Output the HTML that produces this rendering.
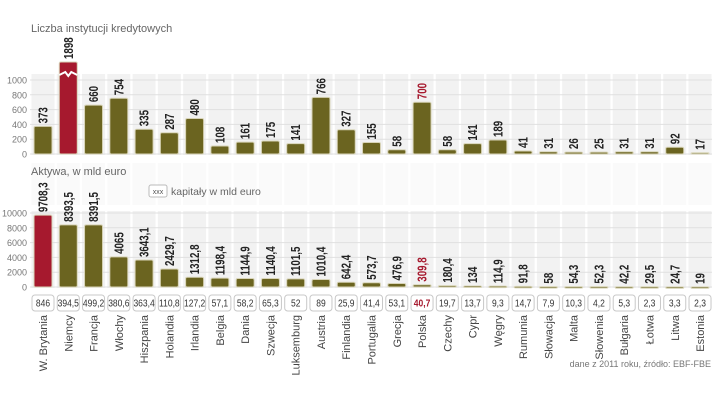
<!DOCTYPE html>
<html><head><meta charset="utf-8"><style>
body{margin:0;background:#fff;}
svg{display:block;font-family:"Liberation Sans",sans-serif;}
</style></head><body>
<svg id="c" width="720" height="405"></svg>
<script>
const countries=["W. Brytania","Niemcy","Francja","Włochy","Hiszpania","Holandia","Irlandia","Belgia","Dania","Szwecja","Luksemburg","Austria","Finlandia","Portugalia","Grecja","Polska","Czechy","Cypr","Węgry","Rumunia","Słowacja","Malta","Słowenia","Bułgaria","Łotwa","Litwa","Estonia"];
const institutions=[373,1898,660,754,335,287,480,108,161,175,141,766,327,155,58,700,58,141,189,41,31,26,25,31,31,92,17];
const assets=[9708.3,8393.5,8391.5,4065,3643.1,2429.7,1312.8,1198.4,1144.9,1140.4,1101.5,1010.4,642.4,573.7,476.9,309.8,180.4,134,114.9,91.8,58,54.3,52.3,42.2,29.5,24.7,19];
const capital=[846,394.5,499.2,380.6,363.4,110.8,127.2,57.1,58.2,65.3,52,89,25.9,41.4,53.1,40.7,19.7,13.7,9.3,14.7,7.9,10.3,4.2,5.3,2.3,3.3,2.3];
const topTicks=[0,200,400,600,800,1000];
const botTicks=[0,2000,4000,6000,8000,10000];
const svg=document.getElementById('c');const NS='http://www.w3.org/2000/svg';
function el(t,a,txt){const e=document.createElementNS(NS,t);for(const k in a)e.setAttribute(k,a[k]);if(txt!==undefined)e.textContent=txt;svg.appendChild(e);return e;}
const fmt=v=>String(v).replace('.',',');
const xc=i=>43+i*25.27;
const yT=v=>154-v*0.074;
const yB=v=>287-v*0.0074;
const OL='#6b6420',RED='#a6192e';
countries.forEach((c,i)=>{
 const s=el('rect',{x:xc(i)-11.5,y:74,width:23,height:81,fill:'#f2f2f2'});
 
 const s3=el('rect',{x:xc(i)-11.5,y:163,width:23,height:42,fill:'#fafafa'});
 
 const s2=el('rect',{x:xc(i)-11.5,y:211,width:23,height:77,fill:'#f2f2f2'});
 
});
topTicks.forEach(t=>{
 const l=el('line',{x1:30,x2:712,y1:yT(t),y2:yT(t),stroke:'#e0e0e0','stroke-width':1});
 
 const tx=el('text',{x:27,y:yT(t)+3.5,'text-anchor':'end','font-size':9,fill:'#777'},t);
 
});
botTicks.forEach(t=>{
 const l=el('line',{x1:30,x2:712,y1:yB(t),y2:yB(t),stroke:'#e0e0e0','stroke-width':1});
 
 const tx=el('text',{x:27,y:yB(t)+3.5,'text-anchor':'end','font-size':9,fill:'#777'},t);
 
});
const t1=el('text',{x:31,y:32,'font-size':11,fill:'#666'},'Liczba instytucji kredytowych');

const t2=el('text',{x:31,y:175,'font-size':11,fill:'#666'},'Aktywa, w mld euro');

const lb=el('rect',{x:149,y:185,width:18,height:12,rx:2,fill:'#fff',stroke:'#bbb'});

const lbt=el('text',{x:158,y:194,'font-size':7,'text-anchor':'middle',fill:'#555'},'xxx');

const lt=el('text',{x:171,y:195,'font-size':10.5,fill:'#666'},'kapitały w mld euro');

countries.forEach((c,i)=>{
 const x=xc(i);
 const v=institutions[i];let top=yT(v);if(top<62)top=62;
 const b=el('rect',{x:x-9,y:top,width:18,height:154-top,rx:1.5,fill:i==1?RED:OL,stroke:'#d8d4b8','stroke-width':1});
 
 if(yT(v)<62){const br=el('path',{d:`M${x-9} 75 L${x-3} 72 L${x} 76 L${x+3} 72 L${x+9} 75`,stroke:'#fff','stroke-width':2,fill:'none'});
  }
 const tv=el('text',{x:0,y:0,transform:`translate(${x+4.5},${top-3}) rotate(-90) scale(0.78,1)`,'font-size':12.5,'font-weight':'bold',fill:i==15?RED:'#222'},v);
 
 const a=assets[i];const bt=yB(a);
 const bb=el('rect',{x:x-9,y:bt,width:18,height:Math.max(287-bt,1.5),rx:1.5,fill:i==0?RED:OL,stroke:'#d8d4b8','stroke-width':1});
 
 const av=el('text',{x:0,y:0,transform:`translate(${x+4.5},${bt-3}) rotate(-90) scale(0.78,1)`,'font-size':12.5,'font-weight':'bold',fill:i==15?RED:'#222'},fmt(a));
 
 const cb=el('rect',{x:x-11,y:295,width:22,height:16,rx:3,fill:'#fff',stroke:'#c8c8c8'});
 
 const ct=el('text',{x:0,y:0,transform:`translate(${x},306.5) scale(0.85,1)`,'text-anchor':'middle','font-size':10,fill:i==15?RED:'#333','font-weight':i==15?'bold':'normal'},fmt(capital[i]));
 
 const cl=el('text',{x:0,y:0,transform:`translate(${x+4},315) rotate(-90)`,'text-anchor':'end','font-size':11,fill:'#444'},c);
 
});
const src=el('text',{x:711,y:367,'text-anchor':'end','font-size':9,fill:'#777'},'dane z 2011 roku, źródło: EBF-FBE');

</script>
</body></html>
